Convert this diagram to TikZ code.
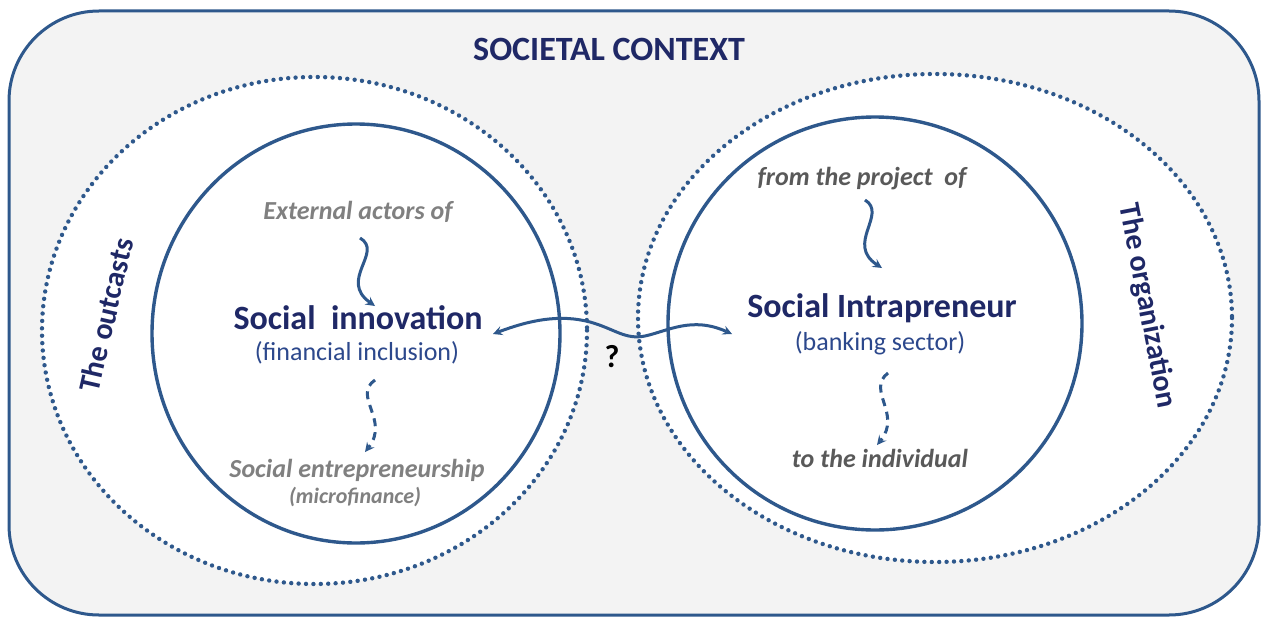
\documentclass[tikz,border=0pt]{standalone}
\usepackage{fontspec}
\setmainfont{Carlito}
\usetikzlibrary{arrows}
\definecolor{navy}{RGB}{31,40,102}
\definecolor{linkblue}{RGB}{46,88,140}
\definecolor{subblue}{RGB}{44,72,140}
\definecolor{softgray}{RGB}{128,128,128}
\definecolor{darkgray}{RGB}{89,89,89}
\definecolor{paper}{RGB}{243,243,243}

\begin{document}
\begin{tikzpicture}%
        [x=1pt, y=-1pt,
        frame/.style={draw=linkblue, line width=3pt, fill=paper, rounded corners=90pt},
        zone/.style={draw=linkblue, fill=white, line width=4.4pt, line cap=round, dash pattern=on 0pt off 7.4pt},
        core/.style={draw=linkblue, line width=3.4pt},
        wave/.style={draw=linkblue, line width=3pt, -stealth},
        faint/.style={wave, dash pattern=on 8pt off 6pt},
        head/.style={font=\fontsize{34}{40}\selectfont\bfseries, text=navy, anchor=base},
        sub/.style={font=\fontsize{26}{30}\selectfont, text=subblue, anchor=base},
        side/.style={font=\fontsize{26}{30}\selectfont\bfseries\itshape, anchor=base},
        ring/.style={font=\fontsize{30}{36}\selectfont\bfseries, text=navy}]

    \useasboundingbox (0,0) rectangle (1261,618);

    %% Drawing the societal context
    \draw[frame] (9,11) rectangle (1259,615);
    \node[head] (ctx) at (609,60) {SOCIETAL CONTEXT};

    %%
    %% Drawing the dotted zones and the circles
    %%
    \path[zone] (314.5,330.5) ellipse [x radius=272.5, y radius=253.5];
    \path[zone] (935,318) ellipse [x radius=297, y radius=244];
    \draw[core] (356,333.5) ellipse [x radius=204, y radius=209.5];
    \draw[core] (875,323.5) ellipse [x radius=207, y radius=206.5];

    %%
    %% Drawing the texts
    %%
    \node[side, text=softgray] (ext) at (358,219) {External actors of};
    \node[head] (inno) at (358,329) {Social~~innovation};
    \node[sub] (incl) at (357,360) {(financial inclusion)};
    \node[side, text=softgray] (entre) at (357,477) {Social entrepreneurship};
    \node[side, text=softgray, font=\fontsize{22}{26}\selectfont\bfseries\itshape] (micro) at (355,503) {(microfinance)};

    \node[side, text=darkgray] (proj) at (862,185) {from the project~~of};
    \node[head] (intra) at (882,317) {Social Intrapreneur};
    \node[sub] (bank) at (880,350) {(banking sector)};
    \node[side, text=darkgray] (indiv) at (880,467) {to the individual};

    \node[ring, rotate=77] (outc) at (106,315) {The outcasts};
    \node[ring, rotate=-79] (orga) at (1147,306) {The organization};
    \node[font=\fontsize{32}{36}\selectfont\bfseries, anchor=base] (q) at (612,367) {?};

    %%
    %% Drawing the wavy arrows
    %%
    \coordinate (ext-tail) at (360,238);
    \coordinate (inno-tip) at (375,306);
    \coordinate (incl-tail) at (375,380);
    \coordinate (entre-tip) at (365,452);
    \coordinate (proj-tail) at (865,200);
    \coordinate (intra-tip) at (882,268);
    \coordinate (bank-tail) at (888,373);
    \coordinate (indiv-tip) at (877,445);
    \coordinate (inno-east) at (493,334);
    \coordinate (intra-west) at (732,334);

    \draw[wave] (ext-tail) .. controls (384,252) and (338,280) .. (inno-tip);
    \draw[faint] (incl-tail) .. controls (352,396) and (390,420) .. (entre-tip);
    \draw[wave] (proj-tail) .. controls (888,214) and (845,244) .. (intra-tip);
    \draw[faint] (bank-tail) .. controls (866,390) and (902,414) .. (indiv-tip);
    \draw[wave, stealth-stealth] (inno-east) .. controls (530,320) and (560,314) .. (590,322)
        .. controls (615,329) and (625,340) .. (645,336)
        .. controls (668,331) and (692,316) .. (intra-west);
    %%
    \end{tikzpicture}
\end{document}
